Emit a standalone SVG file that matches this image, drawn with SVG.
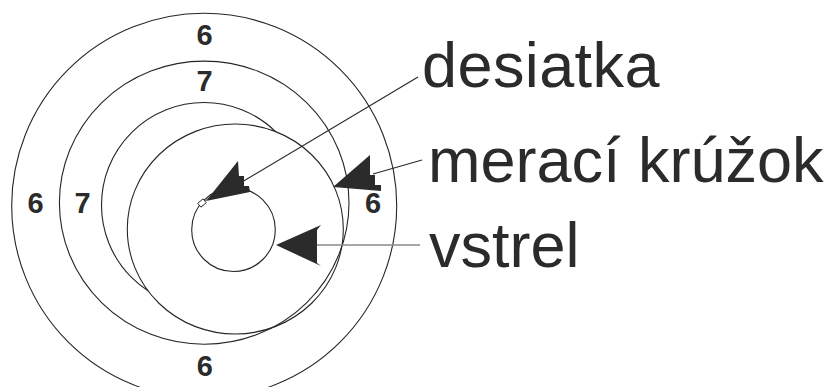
<svg xmlns="http://www.w3.org/2000/svg" width="833" height="387" viewBox="0 0 833 387">
  <style>
    .ring { fill: none; stroke: #262626; stroke-width: 1.1; }
    .num { font-family: "Liberation Sans", Arial, sans-serif; font-weight: bold; font-size: 29px; fill: #2b2b2b; text-anchor: middle; }
    .label { font-family: "Liberation Sans", Arial, sans-serif; font-size: 63px; fill: #2b2b2b; }
    .lead { fill: none; stroke: #262626; stroke-width: 1.1; }
    .head { fill: #2b2b2b; stroke: none; }
  </style>
  <rect width="833" height="387" fill="#ffffff"/>

  <!-- target rings -->
  <g id="ring-8">
    <circle cx="204" cy="205" r="102.5" class="ring"/>
  </g>
  <g id="measuring-ring">
    <ellipse cx="235.3" cy="229" rx="108" ry="105" fill="#ffffff" stroke="#262626" stroke-width="1.1"/>
  </g>
  <g id="ring-7">
    <ellipse cx="204.2" cy="202.7" rx="144.8" ry="141.6" class="ring"/>
  </g>
  <g id="ring-6">
    <circle cx="204.2" cy="205.8" r="192.5" class="ring"/>
  </g>
  <g id="shot">
    <circle cx="233.5" cy="229.7" r="41.8" class="ring"/>
  </g>
  <g id="centre-mark">
    <line x1="202" y1="203" x2="210" y2="197" stroke="#777" stroke-width="1"/>
    <rect x="-3.5" y="-2.5" width="7" height="5" transform="translate(202 203) rotate(-40)" fill="#ffffff" stroke="#262626" stroke-width="0.9"/>
  </g>

  <!-- ring values -->
  <g id="values">
    <text class="num" x="204.5" y="45">6</text>
    <text class="num" x="204.5" y="91">7</text>
    <text class="num" x="35.5" y="213">6</text>
    <text class="num" x="82.5" y="213">7</text>
    <text class="num" x="373" y="213">6</text>
    <text class="num" x="204.7" y="376">6</text>
  </g>

  <!-- leader lines with arrowheads -->
  <g id="connectors">
    <line class="lead" x1="418" y1="77" x2="242" y2="182"/>
    <polygon class="head" points="206,201 238,161 239,176 244,176 244,186 249,186 250,192"/>

    <line class="lead" x1="422" y1="160" x2="373" y2="174"/>
    <polygon class="head" points="333,187 370,155 370,175 375,175 375,185 381,185 381,191"/>

    <line x1="317" y1="245" x2="420" y2="245" stroke="#8a8a8a" stroke-width="1.6"/>
    <polygon class="head" points="276,245 321,225 317,230 317,263 321,266"/>
  </g>

  <!-- labels -->
  <g id="label-desiatka">
    <text class="label" x="422" y="87" letter-spacing="0.4">desiatka</text>
  </g>
  <g id="label-meraci-kruzok">
    <text class="label" x="428" y="182">merací krúžok</text>
  </g>
  <g id="label-vstrel">
    <text class="label" x="429" y="267">vstrel</text>
  </g>
</svg>
